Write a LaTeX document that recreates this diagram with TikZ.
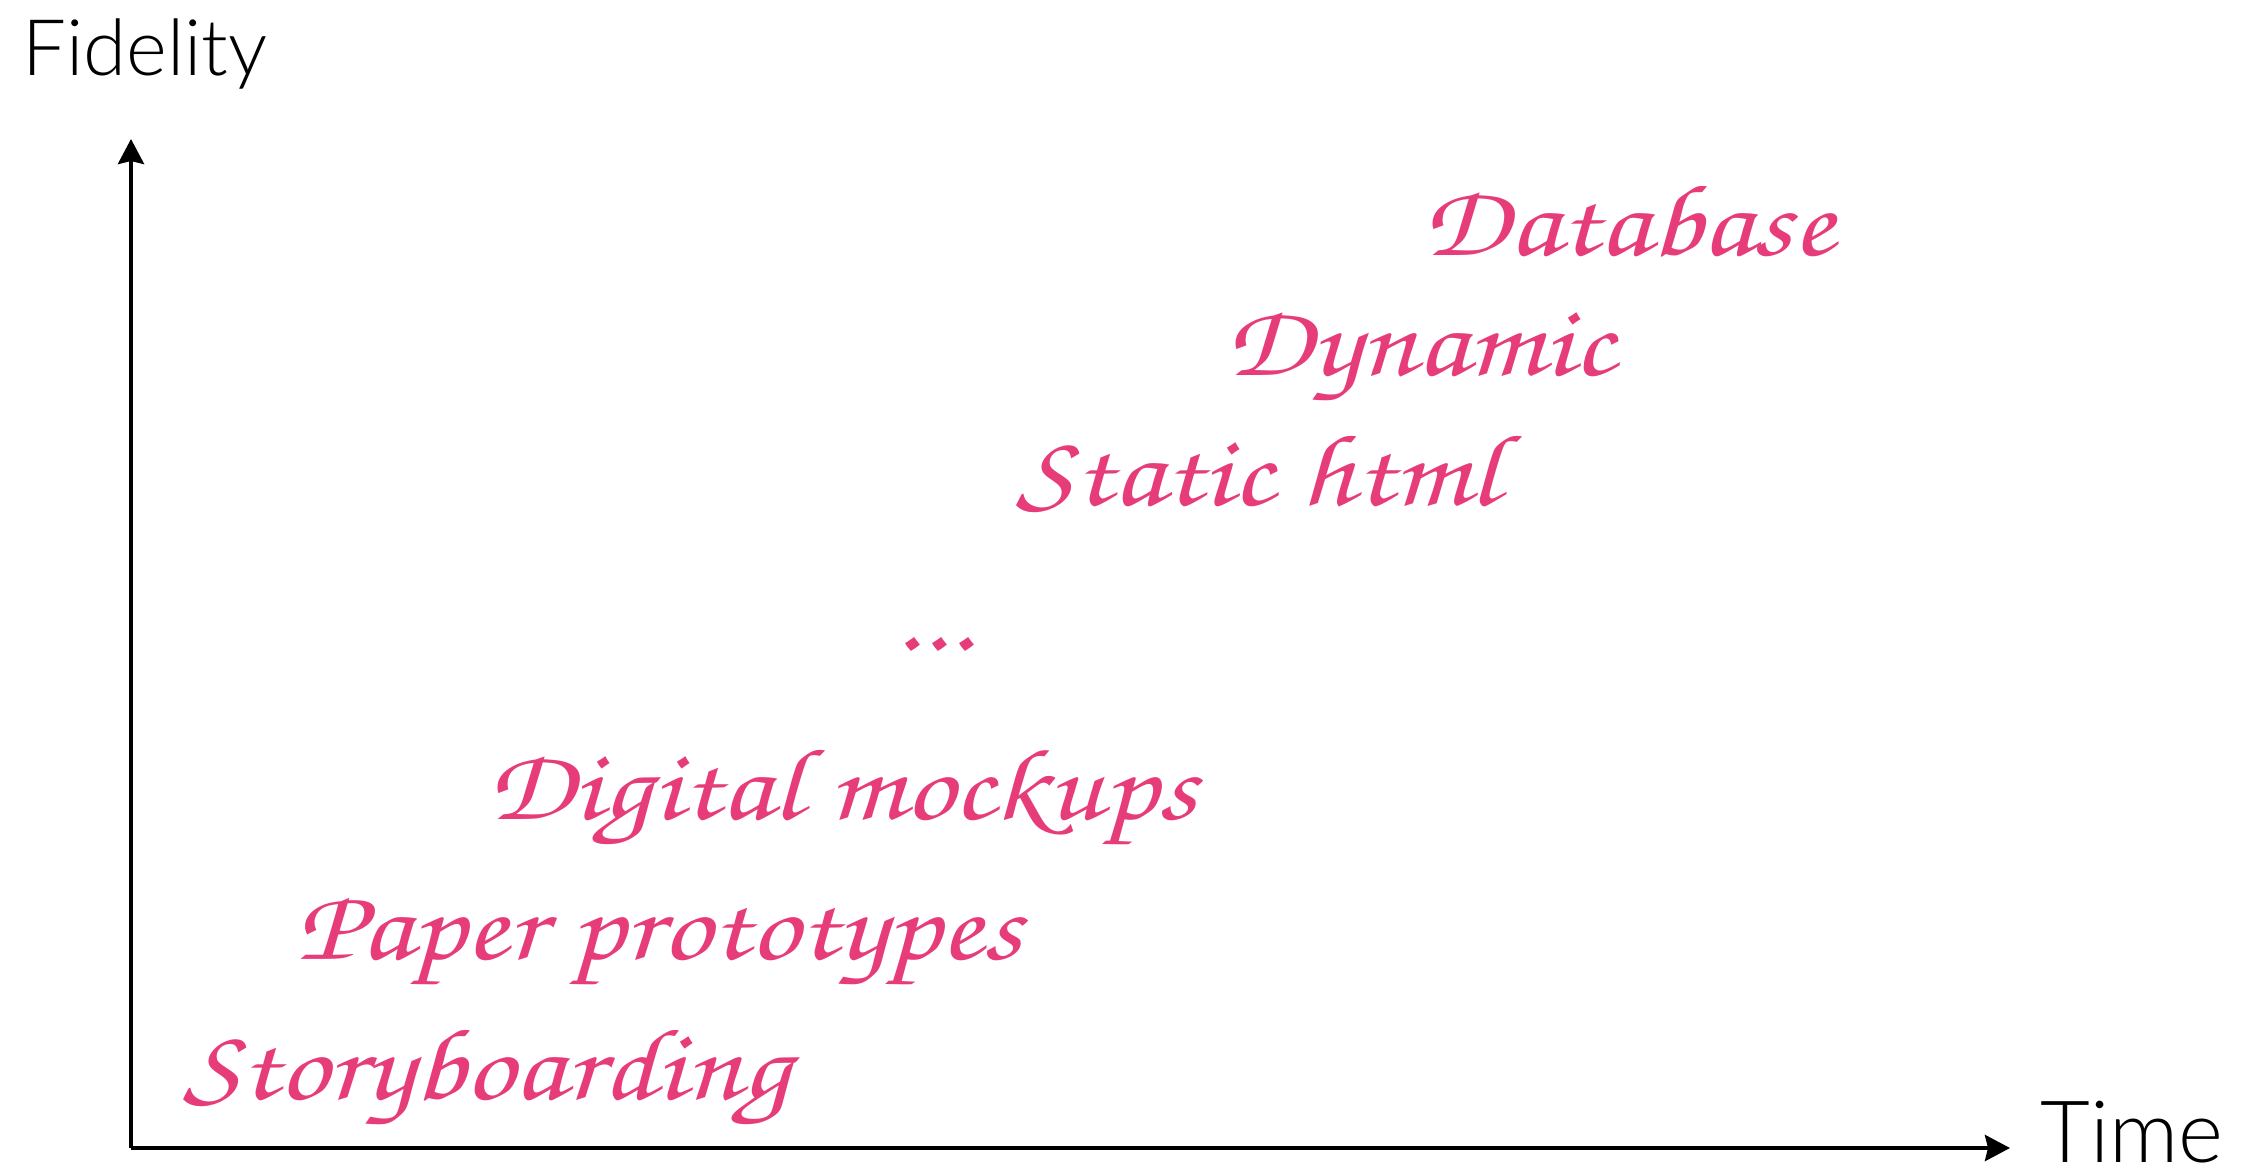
\documentclass[tikz,border=0pt]{standalone}
\usepackage{fontspec}
\usepackage[T1,TU]{fontenc}
\usepackage{graphicx}
\usetikzlibrary{arrows.meta}
\newfontfamily\axisfont{Lato Light}
\newcommand{\scriptface}{\fontencoding{T1}\fontfamily{pzc}\fontseries{m}\fontshape{it}\selectfont}
\newcommand{\stagetext}[1]{\scalebox{1.2}[1]{#1}}
\definecolor{stagepink}{RGB}{231,60,122}
\tikzset{
  axisline/.style={line width=2.1pt, -{Stealth[length=12.5pt,width=13pt,inset=1.5pt]}},
  axislabel/.style={anchor=base west, inner sep=0pt, font=\axisfont\fontsize{39}{39}\selectfont},
  stage/.style={anchor=base, inner sep=0pt, text=stagepink, font=\scriptface\fontsize{51}{51}\selectfont},
}
\begin{document}
\begin{tikzpicture}[x=0.5pt,y=-0.5pt]
  \useasboundingbox (0,0) rectangle (2252,1171);
  % axes
  \coordinate (origin) at (131,1148);
  \coordinate (ytop) at (131,139);
  \coordinate (xend) at (2010,1148);
  \draw[axisline] (origin) -- (ytop);
  \draw[axisline] (origin) -- (xend);
  \node[axislabel] (fidelity) at (22,76) {Fidelity};
  \node[axislabel, font=\axisfont\fontsize{43}{43}\selectfont] (time) at (2040,1162) {Time};
  % prototyping stages, lowest fidelity first
  \node[stage] (story)   at (487,1099) {\stagetext{Storyboarding}};
  \node[stage] (paper)   at (659,959)  {\stagetext{Paper prototypes}};
  \node[stage] (digital) at (842,819)  {\stagetext{Digital mockups}};
  \node[stage] (dots)    at (933,650)  {\stagetext{...}};
  \node[stage] (static)  at (1258,505) {\stagetext{Static html}};
  \node[stage] (dynamic) at (1420,376) {\stagetext{Dynamic}};
  \node[stage] (db)      at (1628,256) {\stagetext{Database}};
\end{tikzpicture}
\end{document}
